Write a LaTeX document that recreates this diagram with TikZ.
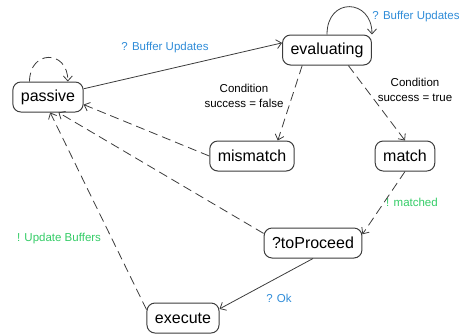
\documentclass[tikz,border=0pt]{standalone}
\usepackage{fontspec}
\usepackage{xcolor}
\usepackage{tikz}
\usetikzlibrary{arrows.meta}
\setmainfont{Liberation Sans}
\definecolor{recvblue}{RGB}{47,140,216}
\definecolor{sendgreen}{RGB}{51,204,102}
\definecolor{edgegray}{RGB}{60,60,60}

\begin{document}
\begin{tikzpicture}[x=1pt,y=-1pt]
    \useasboundingbox (0,0) rectangle (462,333);

    \tikzstyle{state}=[draw=edgegray,line width=1pt,rounded corners=8pt,inner xsep=8pt,minimum height=30pt,font=\fontsize{16}{18}\selectfont]
    \tikzstyle{recv}=[text=recvblue,font=\fontsize{11.5}{15}\selectfont]
    \tikzstyle{send}=[text=sendgreen,font=\fontsize{11.5}{15}\selectfont]
    \tikzstyle{cond}=[align=center,font=\fontsize{11.5}{15}\selectfont]

    \node[state] (passive) at (48,97) {passive};
    \node[state] (evaluating) at (327,50) {evaluating};
    \node[state] (mismatch) at (252,156) {mismatch};
    \node[state] (match) at (405,156) {match};
    \node[state] (toproceed) at (313,243) {?toProceed};
    \node[state] (execute) at (183,318) {execute};

    \node[recv] (bufupd1) at (165,48) {? Buffer Updates};
    \node[recv] (bufupd2) at (416,17) {? Buffer Updates};
    \node[cond] (condfalse) at (244,96) {Condition\\success = false};
    \node[cond] (condtrue) at (415,90) {Condition\\success = true};
    \node[send] (matched) at (412,202) {! matched};
    \node[recv] (ok) at (279,298) {? Ok};
    \node[send] (updbuf) at (59,239) {! Update Buffers};

    \tikzstyle{fwd} = [draw=edgegray, line width=0.8pt, -{Straight Barb[length=5pt,width=9pt]}]
    \tikzstyle{back} = [fwd, dash pattern=on 9pt off 5pt]

    \draw [fwd] (passive.13) -- (evaluating.171);
    \draw [back] (passive.140) .. controls +(0,-32) and +(0,-32) .. (passive.38);
    \draw [fwd] (evaluating.north) .. controls +(0,-38) and +(0,-36) .. (evaluating.north east);

    \draw [back] (evaluating.212) -- (mismatch.31);
    \draw [back] (evaluating.324) -- (match.north);
    \draw [back] (match.south) -- (toproceed.10);

    \draw [back] (mismatch.west) -- (passive.348);
    \draw [back] (toproceed.169) -- (passive.304);
    \draw [fwd] (toproceed.south) -- (execute.14);
    \draw [back] (execute.167) -- (passive.278);

\end{tikzpicture}
\end{document}
